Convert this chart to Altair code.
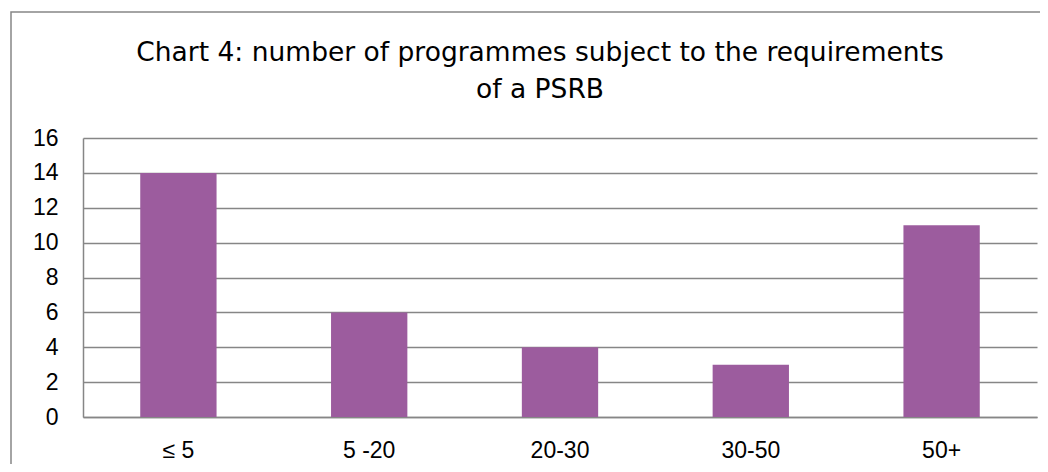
import altair as alt
import pandas as pd

categories = ["≤ 5", "5 -20", "20-30", "30-50", "50+"]
values = [14, 6, 4, 3, 11]
y_ticks = [0, 2, 4, 6, 8, 10, 12, 14, 16]
title_lines = ["Chart 4: number of programmes subject to the requirements", "of a PSRB"]

df = pd.DataFrame({"category": categories, "value": values})

GRAY = "#868686"
W, H = 954, 279
FONT = "Liberation Sans"
TITLE_FONT = "DejaVu Sans"

bars = alt.Chart(df).mark_bar(color="#9C5C9E").encode(
    x=alt.X("category:N", sort=categories,
            scale=alt.Scale(paddingInner=0.6, paddingOuter=0.3),
            axis=alt.Axis(title=None, labelAngle=0, ticks=False, domain=True,
                          domainColor=GRAY, domainWidth=1.5, labelPadding=22,
                          labelFontSize=23, labelFont=FONT,
                          labelColor="#000000")),
    y=alt.Y("value:Q", scale=alt.Scale(domain=[0, 16], nice=False),
            axis=alt.Axis(title=None, values=y_ticks, ticks=False, domain=True,
                          domainColor=GRAY, domainWidth=1.5, grid=True,
                          gridColor=GRAY, gridWidth=1.5, labelPadding=25,
                          labelFontSize=23, labelFont=FONT,
                          labelColor="#000000")),
)

one = pd.DataFrame({"f": [0]})

frame = alt.Chart(one).mark_rect(
    fill=None, stroke=GRAY, strokeWidth=1.5
).encode(
    x=alt.value(-72), x2=alt.value(990),
    y=alt.value(-126), y2=alt.value(360),
)

title_layers = []
for line, yv in zip(title_lines, [-77, -40]):
    title_layers.append(
        alt.Chart(one).mark_text(font=TITLE_FONT, fontSize=26.5, color="#000000",
                                 align="center", baseline="alphabetic").encode(
            x=alt.value(457), y=alt.value(yv), text=alt.value(line))
    )

chart = alt.layer(frame, *title_layers, bars).properties(
    width=W, height=H,
    padding={"left": 75, "top": 130, "right": 3, "bottom": 47},
    autosize=alt.AutoSizeParams(type="none"),
).configure_view(stroke=None)

chart.save("out.html", embed_options={"renderer": "svg", "actions": False})
